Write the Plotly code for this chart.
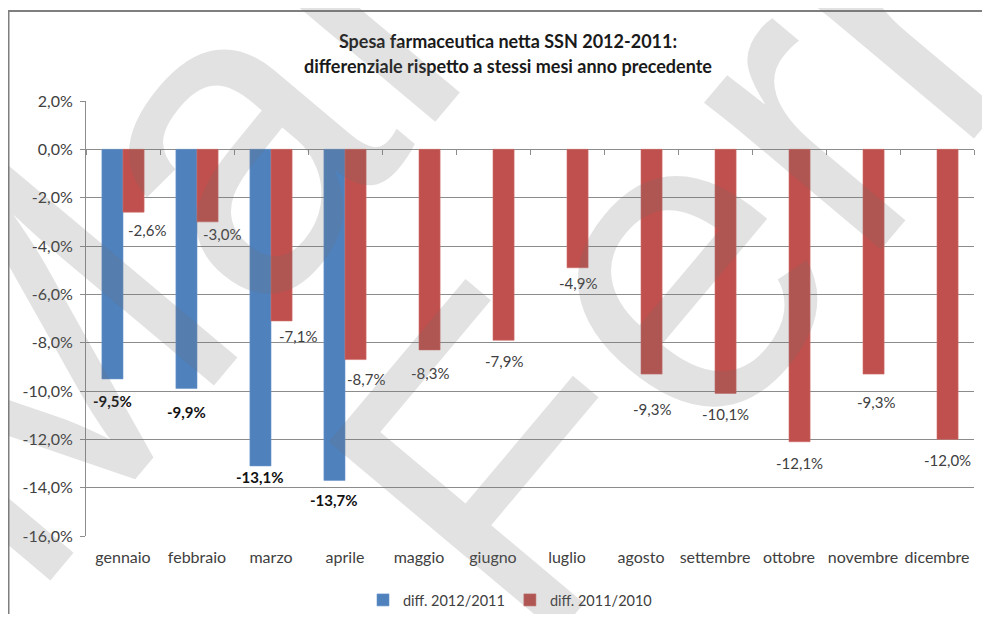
import plotly.graph_objects as go

months = ["gennaio", "febbraio", "marzo", "aprile", "maggio", "giugno",
          "luglio", "agosto", "settembre", "ottobre", "novembre", "dicembre"]
diff_2012_2011 = [-9.5, -9.9, -13.1, -13.7, None, None, None, None, None, None, None, None]
diff_2011_2010 = [-2.6, -3.0, -7.1, -8.7, -8.3, -7.9, -4.9, -9.3, -10.1, -12.1, -9.3, -12.0]
series_names = ["diff. 2012/2011", "diff. 2011/2010"]
y_ticks = [2, 0, -2, -4, -6, -8, -10, -12, -14, -16]
title_lines = ["Spesa farmaceutica netta SSN 2012-2011:",
               "differenziale rispetto a stessi mesi anno precedente"]
watermark_words = ["Marco", "Ferrer"]

# label placement (pixel offsets of each data label from its bar end), style only
label_dx_1 = [0, 0, 0, 0]
label_dy_1 = [22, 23, 11, 20]
label_dx_2 = [13, 14, 16, 10, 0, 0, 0, 0, 0, 0, 2, 0]
label_dy_2 = [18, 12, 15, 19, 23, 21, 15, 35, 21, 21, 28, 21]


def pct(v):
    return "" if v is None else f"{v:.1f}%".replace(".", ",")


FONT = "Lato"
GRID = "#8c8c8c"
TXT = "#404040"

# The page body adds an 8px margin, so the figure is made smaller and all
# reference pixel positions are shifted by OFF.
OFF = 8
W, H = 990 - 2 * OFF, 622 - 2 * OFF
L, T = 86 - OFF, 101 - OFF
pw, ph = 888, 435
R = W - L - pw
B = H - T - ph


def px(x):  # reference pixel x -> paper
    return (x - OFF - L) / pw


def py(y):  # reference pixel y -> paper
    return (T + ph - (y - OFF)) / ph


BARGAP = 0.43
bar_w = pw / len(months) * (1 - BARGAP) / 2

fig = go.Figure()
fig.add_trace(go.Bar(
    x=months, y=diff_2012_2011, name=series_names[0],
    marker=dict(color="#4F81BD", line=dict(color="#6a95c9", width=0.6)),
))
fig.add_trace(go.Bar(
    x=months, y=diff_2011_2010, name=series_names[1],
    marker=dict(color="#C0504D", line=dict(color="#cf6b68", width=0.6)),
))
# helper trace for the category axis drawn on the zero line
fig.add_trace(go.Scatter(x=months, y=diff_2011_2010, xaxis="x2", mode="markers",
                         marker=dict(opacity=0), showlegend=False, hoverinfo="skip"))

# data labels
for i, v in enumerate(diff_2012_2011):
    if v is None:
        continue
    fig.add_annotation(x=months[i], y=v, xref="x", yref="y", text=pct(v), showarrow=False,
                       xshift=-bar_w / 2 + label_dx_1[i], yshift=-label_dy_1[i],
                       xanchor="center", yanchor="middle",
                       font=dict(family=FONT, size=15, color="#111111", weight="bold"))
for i, v in enumerate(diff_2011_2010):
    fig.add_annotation(x=months[i], y=v, xref="x", yref="y", text=pct(v), showarrow=False,
                       xshift=bar_w / 2 + label_dx_2[i], yshift=-label_dy_2[i],
                       xanchor="center", yanchor="middle",
                       font=dict(family=FONT, size=15, color=TXT))

ymin, ymax = -16, 2
fig.update_layout(
    width=W, height=H,
    margin=dict(l=L, r=R, t=T, b=B, autoexpand=False),
    paper_bgcolor="white", plot_bgcolor="white",
    barmode="group", bargap=BARGAP, bargroupgap=0,
    font=dict(family=FONT, size=15, color=TXT),
    title=dict(text="<b>" + title_lines[0] + "</b>", x=px(508), xref="paper",
               xanchor="center", y=1 - (42 - OFF) / H, yanchor="middle", yref="container",
               font=dict(family=FONT, size=18, color="#1a1a1a")),
    xaxis=dict(type="category", showgrid=False, showline=False, ticks="",
               tickfont=dict(size=16, color=TXT), ticklabelstandoff=10,
               range=[-0.5, 11.5], automargin=False),
    xaxis2=dict(type="category", overlaying="x", matches="x", anchor="free",
                position=(0 - ymin) / (ymax - ymin), side="bottom",
                showline=False, ticks="outside", ticklen=5, tickcolor=GRID,
                tickson="boundaries", showticklabels=False, showgrid=False,
                automargin=False),
    yaxis=dict(range=[ymin, ymax], tickvals=y_ticks, ticktext=[pct(v) for v in y_ticks],
               showgrid=True, gridcolor=GRID, gridwidth=1,
               zeroline=True, zerolinecolor=GRID, zerolinewidth=1,
               showline=True, linecolor=GRID, linewidth=1,
               ticks="outside", ticklen=5, tickcolor=GRID,
               tickfont=dict(size=16, color=TXT), ticklabelstandoff=4, automargin=False),
    legend=dict(orientation="h", x=px(510), xanchor="center", y=py(600), yanchor="middle",
                font=dict(size=14.5, color=TXT), traceorder="normal"),
    showlegend=True,
)

fig.add_annotation(text="<b>" + title_lines[1] + "</b>", xref="paper", yref="paper",
                   x=px(508), y=py(66), xanchor="center", yanchor="middle", showarrow=False,
                   font=dict(family=FONT, size=18, color="#1a1a1a"))

# outer frame of the chart object
fig.add_shape(type="rect", xref="paper", yref="paper",
              x0=px(8.5), x1=px(1100), y0=py(700), y1=py(11),
              line=dict(color="#7f7f7f", width=2), fillcolor="rgba(0,0,0,0)", layer="above")

# watermark
wm_pos = [(300, 48), (800, 111)]
for word, (cx, cy) in zip(watermark_words, wm_pos):
    fig.add_annotation(text=word, xref="paper", yref="paper", x=px(cx), y=py(cy),
                       xanchor="center", yanchor="middle", showarrow=False, textangle=-50,
                       font=dict(family="Liberation Sans", size=435, color="rgba(110,110,110,0.2)"))

fig.write_html("out.html")
